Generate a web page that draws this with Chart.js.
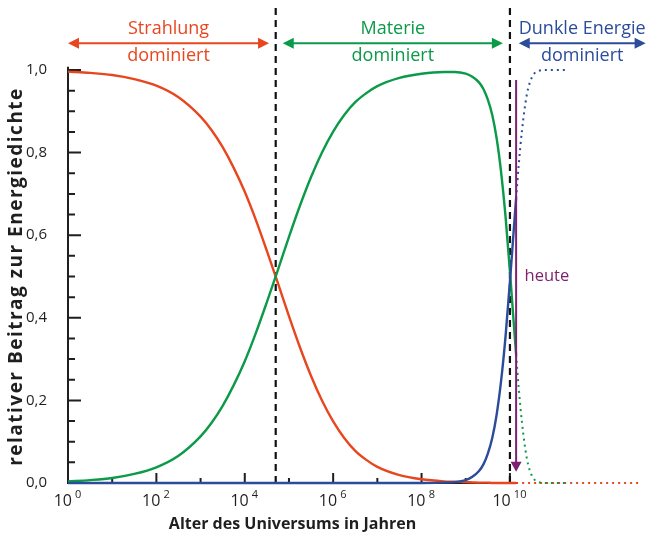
<!DOCTYPE html>
<html>
<head>
<meta charset="utf-8">
<script src="https://cdn.jsdelivr.net/npm/chart.js@4/dist/chart.umd.min.js"></script>
<style>
  html, body { margin: 0; padding: 0; background: #ffffff; }
  #wrap { width: 647px; height: 537px; }
</style>
</head>
<body>
<div id="wrap"><canvas id="chart" width="647" height="537"></canvas></div>
<script>
// Age of the universe as powers of ten (years)
const ageExp     = [0, 0.5, 1, 1.5, 2, 2.5, 3, 3.25, 3.5, 3.75, 4, 4.25, 4.5, 4.75, 5, 5.25, 5.5, 5.75, 6, 6.25, 6.5, 6.75, 7, 7.5, 8, 8.5, 8.75, 9, 9.15, 9.3, 9.4, 9.5, 9.6, 9.7, 9.8, 9.9, 10, 10.07, 10.14];
// Share of the total energy density up to today
const radiation  = [0.996, 0.993, 0.988, 0.978, 0.962, 0.934, 0.887, 0.854, 0.813, 0.763, 0.705, 0.637, 0.562, 0.484, 0.404, 0.328, 0.259, 0.199, 0.149, 0.109, 0.078, 0.056, 0.039, 0.019, 0.009, 0.004, 0.003, 0.002, 0.0015, 0.001, 0.001, 0.001, 0, 0, 0, 0, 0, 0, 0];
const matter     = [0.004, 0.007, 0.012, 0.022, 0.038, 0.066, 0.113, 0.146, 0.187, 0.237, 0.295, 0.363, 0.438, 0.516, 0.596, 0.672, 0.741, 0.801, 0.851, 0.891, 0.922, 0.944, 0.961, 0.981, 0.991, 0.995, 0.995, 0.991, 0.9835, 0.970, 0.954, 0.928, 0.891, 0.834, 0.753, 0.646, 0.513, 0.411, 0.31];
const darkEnergy = [0, 0, 0, 0, 0, 0, 0, 0, 0, 0, 0, 0, 0, 0, 0, 0, 0, 0, 0, 0, 0, 0, 0, 0, 0, 0.001, 0.002, 0.007, 0.015, 0.029, 0.045, 0.071, 0.109, 0.166, 0.247, 0.354, 0.487, 0.589, 0.69];
// Expected shares after today
const futureExp        = [10.14, 10.2, 10.27, 10.38, 10.5, 10.63, 10.8, 11.33];
const matterFuture     = [0.31, 0.229, 0.149, 0.061, 0.017, 0.003, 0, 0];
const darkEnergyFuture = [0.69, 0.771, 0.851, 0.939, 0.983, 0.997, 1.0, 1.0];
const radiationFutureExp = [10.14, 12.95];
const radiationFuture    = [0, 0];

// Axis ticks and labels
const xTickExp    = [0, 2, 4, 6, 8, 10];
const yTickLabels = ['0,0', '0,2', '0,4', '0,6', '0,8', '1,0'];
const yTitle      = 'relativer Beitrag zur Energiedichte';

// Moments of equal density and today
const equalityExp = [4.7, 10.0];
const todayExp    = 10.14;

const RED    = '#e8461e';
const GREEN  = '#0b9a48';
const BLUE   = '#2b4c9b';
const PURPLE = '#7d2270';
const INK    = '#1f1f1f';
const FONT   = "'Open Sans', 'Noto Sans', sans-serif";

// Dominance eras shown above the plot
const eras = [
  { line1: 'Strahlung',      line2: 'dominiert', fromExp: 0,    toExp: 4.55,  color: RED },
  { line1: 'Materie',        line2: 'dominiert', fromExp: 4.86, toExp: 9.84,  color: GREEN },
  { line1: 'Dunkle Energie', line2: 'dominiert', fromExp: 10.2, toExp: 13.07, color: BLUE }
];

const points = (exps, vals) => exps.map((e, i) => ({ x: Math.pow(10, e), y: vals[i] }));

const solid = (label, exps, vals, color) => ({
  label, data: points(exps, vals), borderColor: color, backgroundColor: color,
  borderWidth: 2.4, pointRadius: 0, cubicInterpolationMode: 'monotone', clip: false, fill: false
});
const dotted = (label, exps, vals, color) => ({
  ...solid(label, exps, vals, color), borderWidth: 2, borderDash: [2, 4]
});

function arrowHead(ctx, x, y, dir, size, color) {
  // dir: 1 = pointing right, -1 = left, 2 = down
  ctx.save();
  ctx.fillStyle = color;
  ctx.beginPath();
  if (dir === 2) {
    ctx.moveTo(x, y);
    ctx.lineTo(x - size * 0.55, y - size);
    ctx.lineTo(x + size * 0.55, y - size);
  } else {
    ctx.moveTo(x, y);
    ctx.lineTo(x - dir * size, y - size * 0.5);
    ctx.lineTo(x - dir * size, y + size * 0.5);
  }
  ctx.closePath();
  ctx.fill();
  ctx.restore();
}

const decorations = {
  id: 'decorations',
  beforeDatasetsDraw(chart) {
    const { ctx, chartArea, scales: { x, y } } = chart;
    const x0 = x.getPixelForValue(1);
    const y0 = y.getPixelForValue(0);
    ctx.save();
    ctx.strokeStyle = INK;
    ctx.lineWidth = 2;
    // y axis with major and minor ticks
    ctx.beginPath();
    ctx.moveTo(x0, y0);
    ctx.lineTo(x0, y.getPixelForValue(1.008));
    for (let i = 0; i <= 20; i++) {
      const py = y.getPixelForValue(i * 0.05);
      const len = i % 4 === 0 ? 13 : 7;
      ctx.moveTo(x0, py);
      ctx.lineTo(x0 + len, py);
    }
    // x axis, one tick per decade
    ctx.moveTo(x0 - 1, y0);
    ctx.lineTo(chartArea.right, y0);
    for (let e = 1; e <= 10; e++) {
      const px = x.getPixelForValue(Math.pow(10, e));
      ctx.moveTo(px, y0);
      ctx.lineTo(px, y0 - (e % 2 === 0 ? 10 : 5));
    }
    ctx.stroke();

    // x tick labels with raised exponent
    ctx.fillStyle = INK;
    ctx.textBaseline = 'alphabetic';
    xTickExp.forEach(e => {
      const px = x.getPixelForValue(Math.pow(10, e));
      ctx.font = `16px ${FONT}`;
      const wBase = ctx.measureText('10 ').width;
      ctx.font = `11px ${FONT}`;
      const wExp = ctx.measureText(String(e)).width;
      const start = px - (wBase + wExp) / 2;
      ctx.font = `16px ${FONT}`;
      ctx.textAlign = 'left';
      ctx.fillText('10', start, y0 + 23);
      ctx.font = `11px ${FONT}`;
      ctx.fillText(String(e), start + wBase - 1, y0 + 15);
    });

    // y axis title, rotated
    ctx.save();
    ctx.translate(17, (y.getPixelForValue(0) + y.getPixelForValue(1)) / 2);
    ctx.rotate(-Math.PI / 2);
    ctx.font = `bold 19px ${FONT}`;
    if ('letterSpacing' in ctx) ctx.letterSpacing = '1.5px';
    ctx.textAlign = 'center';
    ctx.textBaseline = 'middle';
    ctx.fillText(yTitle, 0, 0);
    ctx.restore();

    // dashed lines at the moments of equal density
    ctx.setLineDash([7, 5]);
    ctx.lineWidth = 2.2;
    ctx.strokeStyle = '#111111';
    equalityExp.forEach(e => {
      const px = x.getPixelForValue(Math.pow(10, e));
      ctx.beginPath();
      ctx.moveTo(px, y.getPixelForValue(1.15));
      ctx.lineTo(px, y0);
      ctx.stroke();
    });
    ctx.restore();
  },
  afterDatasetsDraw(chart) {
    const { ctx, scales: { x, y } } = chart;
    ctx.save();
    // era arrows and captions
    const ay = y.getPixelForValue(1.065);
    eras.forEach(era => {
      const xa = x.getPixelForValue(Math.pow(10, era.fromExp));
      const xb = x.getPixelForValue(Math.pow(10, era.toExp));
      ctx.strokeStyle = era.color;
      ctx.lineWidth = 2;
      ctx.beginPath();
      ctx.moveTo(xa + 8, ay);
      ctx.lineTo(xb - 8, ay);
      ctx.stroke();
      arrowHead(ctx, xa, ay, -1, 11, era.color);
      arrowHead(ctx, xb, ay, 1, 11, era.color);
      const cx = (xa + xb) / 2;
      ctx.fillStyle = era.color;
      ctx.font = `18px ${FONT}`;
      ctx.textAlign = 'center';
      ctx.textBaseline = 'middle';
      ctx.fillText(era.line1, cx, y.getPixelForValue(1.10));
      ctx.fillText(era.line2, cx, y.getPixelForValue(1.035));
    });

    // today marker
    const tx = x.getPixelForValue(Math.pow(10, todayExp));
    const tTop = y.getPixelForValue(0.976);
    const tTip = y.getPixelForValue(0.027);
    ctx.strokeStyle = PURPLE;
    ctx.lineWidth = 2;
    ctx.beginPath();
    ctx.moveTo(tx, tTop);
    ctx.lineTo(tx, tTip - 8);
    ctx.stroke();
    arrowHead(ctx, tx, tTip, 2, 10, PURPLE);
    ctx.fillStyle = PURPLE;
    ctx.font = `16.5px ${FONT}`;
    ctx.textAlign = 'left';
    ctx.textBaseline = 'middle';
    ctx.fillText('heute', x.getPixelForValue(Math.pow(10, 10.33)), y.getPixelForValue(0.5));
    ctx.restore();
  }
};

new Chart(document.getElementById('chart'), {
  type: 'line',
  data: {
    datasets: [
      solid('Dunkle Energie', ageExp, darkEnergy, BLUE),
      dotted('Dunkle Energie (Zukunft)', futureExp, darkEnergyFuture, BLUE),
      solid('Materie', ageExp, matter, GREEN),
      dotted('Materie (Zukunft)', futureExp, matterFuture, GREEN),
      solid('Strahlung', ageExp, radiation, RED),
      dotted('Strahlung (Zukunft)', radiationFutureExp, radiationFuture, RED)
    ]
  },
  options: {
    responsive: false,
    animation: false,
    devicePixelRatio: 1,
    layout: { padding: { top: 70, right: 130, left: 0, bottom: 0 } },
    plugins: { legend: { display: false }, tooltip: { enabled: false } },
    scales: {
      x: {
        type: 'logarithmic', bounds: 'data',
        // visible range: from one year up to today; the future runs on past the axis end
        afterDataLimits: s => { s.min = 1; s.max = Math.pow(10, 10.16); },
        border: { display: false }, grid: { display: false },
        ticks: { display: false },
        afterFit: s => { s.height = 54; },
        title: {
          display: true, text: 'Alter des Universums in Jahren', color: INK,
          font: { family: FONT, size: 16, weight: 'bold' }, padding: { top: 0, bottom: 3 }
        }
      },
      y: {
        min: 0, max: 1,
        border: { display: false }, grid: { display: false },
        ticks: {
          stepSize: 0.2, padding: 13, color: INK,
          font: { family: FONT, size: 15 },
          callback: (v, i) => yTickLabels[i]
        },
        afterFit: s => { s.width = 68; }
      }
    }
  },
  plugins: [decorations]
});
</script>
</body>
</html>
